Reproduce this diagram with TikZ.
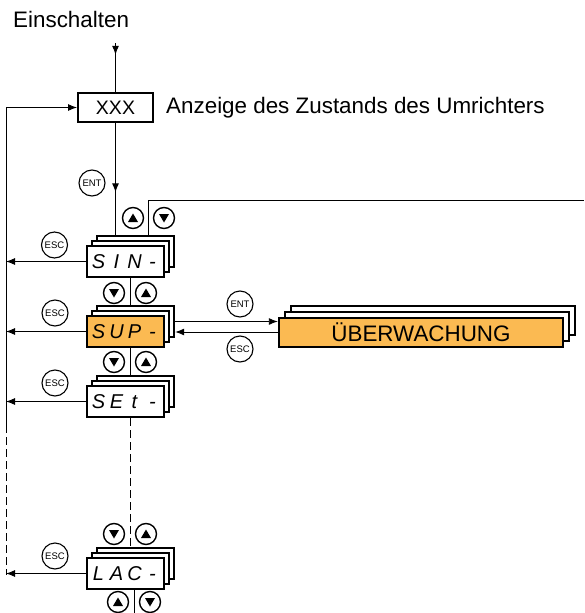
\documentclass[tikz,border=0pt]{standalone}
\usepackage{fontspec}
\setmainfont{Liberation Sans}
\usetikzlibrary{arrows.meta,decorations.markings}
\definecolor{suporange}{RGB}{251,186,82}
\newcommand\SegTxt[4]{\makebox[18pt]{#1}\makebox[18pt]{#2}\makebox[18pt]{#3}\makebox[18pt]{#4}}
\newcommand\DispStack[6]{%
  \node[#4,fill=white] (#1B) at ({#2+2*#6},{#3-2*#6}) {};
  \node[#4,fill=white] (#1M) at ({#2+#6},{#3-#6}) {};
  \node[#4] (#1) at (#2,#3) {#5};}
\begin{document}
\begin{tikzpicture}[x=1pt,y=-1pt,
  conn/.style={line width=0.9pt},
  arr/.style={conn,-{Latex[length=9pt,width=7pt]}},
  midarr/.style={conn,postaction={decorate},decoration={markings,
     mark=at position #1 with {\arrow{Latex[length=9pt,width=7pt]}}}},
  disp/.style={draw,line width=2.4pt,minimum width=77pt,minimum height=31pt,inner sep=0pt,
     fill=white,font=\fontsize{20}{20}\selectfont\itshape},
  dispo/.style={disp,fill=suporange},
  wide/.style={draw,line width=2.4pt,minimum width=284pt,minimum height=29pt,inner sep=0pt,
     fill=white,font=\fontsize{22.4}{24}\selectfont},
  wideo/.style={wide,fill=suporange},
  keyc/.style={circle,draw,line width=1.1pt,minimum size=26pt,inner sep=0pt,
     font=\fontsize{9.5}{10}\selectfont},
  btn/.style={circle,draw,line width=1.4pt,minimum size=21pt,inner sep=0pt},
  upbtn/.style={btn,path picture={\fill (path picture bounding box.center) ++(0pt,4.5pt)
     -- ++(-5pt,-8.5pt) -- ++(10pt,0pt) -- cycle;}},
  dnbtn/.style={btn,path picture={\fill (path picture bounding box.center) ++(0pt,-4.5pt)
     -- ++(-5pt,8.5pt) -- ++(10pt,0pt) -- cycle;}},
  lbl/.style={inner sep=0pt,anchor=base west,font=\fontsize{22.4}{24}\selectfont},
  dashline/.style={conn,dash pattern=on 8pt off 4pt}
]
\useasboundingbox (0,0) rectangle (584,613);

% texts
\node[lbl] (ein) at (13,27.5) {Einschalten};
\node[draw,line width=2pt,minimum width=75pt,minimum height=29pt,inner sep=0pt,
      font=\fontsize{19.5}{20}\selectfont] (xxx) at (115.5,107.5) {XXX};
\node[lbl] (anz) at (166,113) {Anzeige des Zustands des Umrichters};

% displays
\DispStack{sin}{125.5}{261.5}{disp}{\SegTxt{S}{I}{N}{-}}{5}
\DispStack{sup}{125.5}{331.5}{dispo}{\SegTxt{S}{U}{P}{-}}{5}
\DispStack{set}{125.5}{401.5}{disp}{\SegTxt{S}{E}{t}{-}}{5}
\DispStack{lac}{125.5}{573.5}{disp}{\SegTxt{L}{A}{C}{-}}{5}
\DispStack{uber}{421}{332.5}{wideo}{ÜBERWACHUNG}{6}

% keys
\node[keyc] (ent1) at (92,183) {ENT};
\node[keyc] (esc1) at (54.5,245) {ESC};
\node[keyc] (esc2) at (55,313) {ESC};
\node[keyc] (esc3) at (55,383) {ESC};
\node[keyc] (esc4) at (55,556) {ESC};
\node[keyc] (ent2) at (240,304) {ENT};
\node[keyc] (esc5) at (240,349) {ESC};

% arrow buttons
\node[upbtn] (b1) at (133,218) {};
\node[dnbtn] (b2) at (164,218) {};
\node[dnbtn] (b3) at (114,293) {};
\node[upbtn] (b4) at (146,293) {};
\node[dnbtn] (b5) at (114,362) {};
\node[upbtn] (b6) at (146,362) {};
\node[dnbtn] (b7) at (114,534) {};
\node[upbtn] (b8) at (146,534) {};
\node[upbtn] (b9) at (118,602) {};
\node[dnbtn] (b10) at (150,602) {};

% coordinates
\coordinate (einTop) at (115.5,43);
\coordinate (fbTop) at (6,107.5);
\coordinate (fbMid) at (6,425);
\coordinate (fbBot) at (6,575);
\coordinate (loopR) at (584,200);
\coordinate (lacEnd) at (134,613);
\coordinate (escIn) at ([yshift=-10.5pt]supB.east);

% connectors
\draw[midarr=0.24] (einTop) -- (xxx.north);
\draw[midarr=0.62] (xxx.south) -- (xxx.south |- sinB.north);
\draw[conn] ([xshift=12.5pt]sinB.north) |- (loopR);
\draw[arr] (fbTop) -- (xxx.west);
\draw[conn] (fbTop) -- (fbMid);
\draw[dashline] (fbMid) -- (fbBot);
\draw[arr] (sin.west) -- (sin.west -| fbTop);
\draw[arr] (sup.west) -- (sup.west -| fbTop);
\draw[arr] (set.west) -- (set.west -| fbTop);
\draw[arr] (lac.west) -- (lac.west -| fbTop);
\draw[conn] ([xshift=4.5pt]sin.south) -- ([xshift=-5.5pt]supB.north);
\draw[conn] ([xshift=4.5pt]sup.south) -- ([xshift=-5.5pt]setB.north);
\draw[dashline] ([xshift=4.5pt]set.south) -- ([xshift=-5.5pt]lacB.north);
\draw[conn] ([xshift=8.5pt]lac.south) -- (lacEnd);
\draw[arr] (supB.east) -- (supB.east -| uber.west);
\draw[arr] (escIn -| uber.west) -- (escIn);
\end{tikzpicture}
\end{document}
